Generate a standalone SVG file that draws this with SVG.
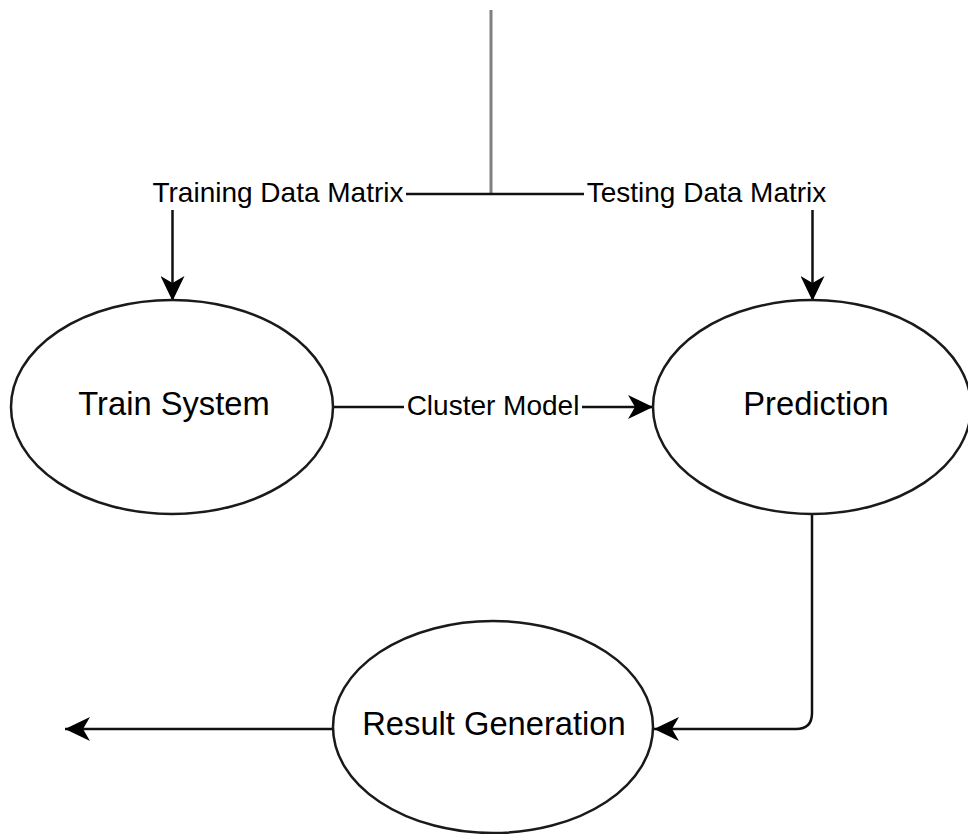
<svg xmlns="http://www.w3.org/2000/svg" width="968" height="834" viewBox="0 0 968 834">
  <style>
    .node ellipse { fill: #ffffff; stroke: #1a1a1a; stroke-width: 2.5; }
    .node text { font-family: "Liberation Sans", Arial, sans-serif; font-size: 32.7px; fill: #000000; text-anchor: middle; }
    .edge { fill: none; stroke: #111111; stroke-width: 2.5; }
    .feed { fill: none; stroke: #808080; stroke-width: 3; }
    .label { font-family: "Liberation Sans", Arial, sans-serif; font-size: 28px; fill: #000000; text-anchor: middle; }
  </style>
  <defs>
    <marker id="arrow" markerUnits="userSpaceOnUse" markerWidth="26" markerHeight="24" viewBox="0 0 26 24" refX="25" refY="12" orient="auto">
      <path d="M25,12 L0,0 L7,12 L0,24 Z" fill="#000000"/>
    </marker>
  </defs>

  <!-- connectors -->
  <g id="connectors">
    <path class="feed" d="M491,10 V194"/>
    <path class="edge" d="M491,194 H406 M172.5,210 V301" marker-end="url(#arrow)"/>
    <path class="edge" d="M491,194 H584 M812.5,210 V301" marker-end="url(#arrow)"/>
    <path class="edge" d="M333,407 H404 M582,407 H653" marker-end="url(#arrow)"/>
    <path class="edge" d="M812,514 V713 Q812,729 796,729 H654" marker-end="url(#arrow)"/>
    <path class="edge" d="M333,729 H65" marker-end="url(#arrow)"/>
    <text class="label" x="278" y="201.5">Training Data Matrix</text>
    <text class="label" x="706.5" y="201.5">Testing Data Matrix</text>
    <text class="label" x="493" y="415">Cluster Model</text>
  </g>

  <!-- processes -->
  <g id="train-system" class="node">
    <ellipse cx="172" cy="407" rx="161" ry="107"/>
    <text x="174" y="415">Train System</text>
  </g>
  <g id="prediction" class="node">
    <ellipse cx="812" cy="407" rx="159" ry="107"/>
    <text x="816" y="415">Prediction</text>
  </g>
  <g id="result-generation" class="node">
    <ellipse cx="493" cy="727" rx="160" ry="106"/>
    <text x="494" y="735">Result Generation</text>
  </g>
</svg>
